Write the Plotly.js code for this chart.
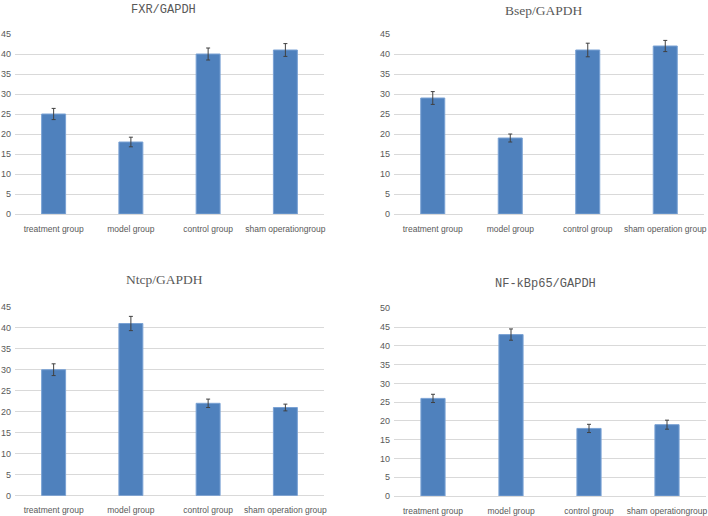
<!DOCTYPE html>
<html><head><meta charset="utf-8">
<script src="https://cdn.plot.ly/plotly-3.0.1.min.js"></script>
<style>html,body{margin:0;padding:0;background:#fff}#c{width:708px;height:516px}</style>
</head><body><div id="c"></div>
<script>
const categoriesA = ["treatment group","model group","control group","sham operationgroup"];
const categoriesB = ["treatment group","model group","control group","sham operation group"];
const titles = ["FXR/GAPDH","Bsep/GAPDH","Ntcp/GAPDH","NF-kBp65/GAPDH"];
const fxr = [25,18,40,41];
const fxrErr = [1.4,1.2,1.5,1.6];
const bsep = [29,19,41,42];
const bsepErr = [1.6,1.0,1.7,1.4];
const ntcp = [30,41,22,21];
const ntcpErr = [1.4,1.7,1.0,0.8];
const nfkb = [26,43,18,19];
const nfkbErr = [1.1,1.5,1.1,1.2];
const yTicks45 = [0,5,10,15,20,25,30,35,40,45];
const yTicks50 = [0,5,10,15,20,25,30,35,40,45,50];

const W=708,H=516;
const px = v=>v/W, py = v=>1-v/H;
const barColor="#4F81BD";
function bar(cats, vals, errs, n){
  return {type:"bar", x:cats, y:vals, xaxis:"x"+(n===1?"":n), yaxis:"y"+(n===1?"":n),
    marker:{color:barColor, line:{color:"#7aa2d4", width:1}},
    error_y:{type:"data", array:errs, visible:true, color:"#404040", thickness:1, width:2},
    hoverinfo:"skip", showlegend:false};
}
const data=[bar(categoriesA,fxr,fxrErr,1), bar(categoriesB,bsep,bsepErr,2), bar(categoriesB,ntcp,ntcpErr,3), bar(categoriesA,nfkb,nfkbErr,4)];
const xFont={family:"Liberation Sans, Arial", size:8.5, color:"#595959"};
const yFont={family:"Liberation Sans, Arial", size:9, color:"#595959"};
function xa(d, anchor){return {domain:d, anchor:anchor, showgrid:false, showline:false, zeroline:false, ticks:"", tickangle:0, tickfont:xFont, fixedrange:true, ticklabelstandoff:8};}
function ya(d, anchor, rng, tv){return {domain:d, anchor:anchor, range:rng, tickvals:tv, showgrid:true, gridcolor:"#d9d9d9", gridwidth:1, zeroline:true, zerolinecolor:"#d9d9d9", zerolinewidth:1, showline:false, ticks:"", tickfont:yFont, fixedrange:true, ticklabelstandoff:3};}
const d1x=[px(15),px(324)], d2x=[px(394),px(704)], d4x=[px(394),px(706)];
const dTop=[py(214),py(34)], d3y=[py(495.7),py(306.7)], d4y=[py(496),py(308.3)];
const serif={family:"Liberation Serif, Times New Roman, serif", size:13.5, color:"#595959"};
const mono={family:"Liberation Mono, DejaVu Sans Mono, monospace", size:12, color:"#595959"};
function ann(t,x,y,f){return {text:t, x:px(x), y:py(y), xref:"paper", yref:"paper", showarrow:false, xanchor:"center", yanchor:"middle", font:f};}
const layout={width:W,height:H,margin:{l:0,r:0,t:0,b:0},paper_bgcolor:"#fff",plot_bgcolor:"#fff",
  bargap:0.69,
  xaxis:xa(d1x,"y"), yaxis:ya(dTop,"x",[0,45],yTicks45),
  xaxis2:xa(d2x,"y2"), yaxis2:ya(dTop,"x2",[0,45],yTicks45),
  xaxis3:xa(d1x,"y3"), yaxis3:ya(d3y,"x3",[0,45],yTicks45),
  xaxis4:xa(d4x,"y4"), yaxis4:ya(d4y,"x4",[0,50],yTicks50),
  annotations:[ann(titles[0],163.5,10,mono), ann(titles[1],543.7,10,serif), ann(titles[2],164.5,279,serif), ann(titles[3],545,283.5,mono)]
};
Plotly.newPlot("c",data,layout,{staticPlot:true,displayModeBar:false});
</script></body></html>
